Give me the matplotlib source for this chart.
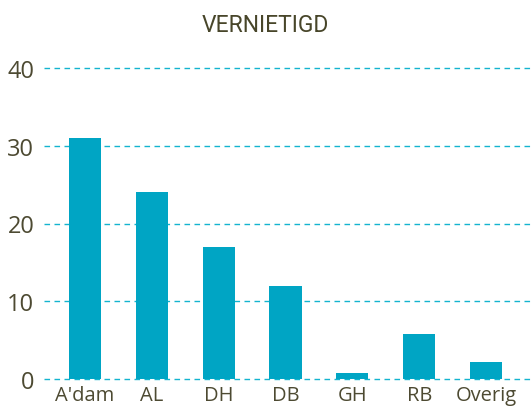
import matplotlib
matplotlib.use("Agg")
import matplotlib.pyplot as plt
from matplotlib import font_manager

categories = ["A'dam", "AL", "DH", "DB", "GH", "RB", "Overig"]
values = [31, 24, 17, 12, 0.8, 5.8, 2.2]
yticks = [0, 10, 20, 30, 40]

BAR = '#00a5c4'
GRID = '#14b4cf'
TEXT = '#4d4a32'

names = {f.name for f in font_manager.fontManager.ttflist}
title_font = 'Liberation Sans Narrow' if 'Liberation Sans Narrow' in names else 'Roboto'

fig = plt.figure(figsize=(5.31, 4.10), dpi=100)
ax = fig.add_axes([44 / 531, 30 / 410, 487 / 531, 311 / 410])

x = range(len(categories))
ax.bar(x, values, width=0.48, color=BAR, zorder=3)

for t in yticks:
    ax.axhline(t, color=GRID, linestyle=(0, (4, 3.2)), linewidth=1.0, clip_on=False, zorder=1)

ax.set_xlim(-0.61, 6.67)
ax.set_ylim(0, 40)
ax.set_yticks(yticks)
ax.set_xticks(list(x))
ax.set_xticklabels(categories, fontfamily='Open Sans', fontsize=14.5, color=TEXT)
ax.set_yticklabels([str(t) for t in yticks], fontfamily='Open Sans', fontsize=17, color=TEXT)
ax.tick_params(axis='both', length=0)
ax.tick_params(axis='y', pad=7)
ax.tick_params(axis='x', pad=4)
for s in ax.spines.values():
    s.set_visible(False)

fig.text(265 / 531, 1 - 25 / 410, "VERNIETIGD", ha='center', va='center',
         fontfamily=title_font, fontsize=16.5, color='#48462a')

fig.savefig("out.png", dpi=100)
